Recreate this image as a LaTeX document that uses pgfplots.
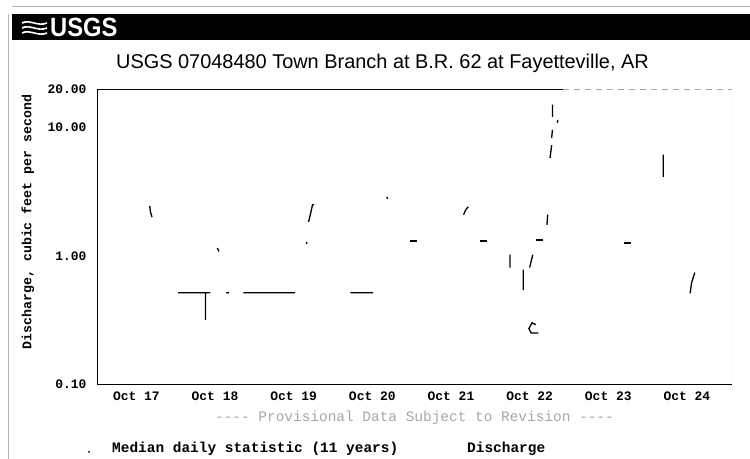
\documentclass[border=0pt]{standalone}
\usepackage{fontspec}
\setmainfont{Liberation Sans}
\newfontfamily\mono{Liberation Mono}
\usepackage{pgfplots}
\pgfplotsset{compat=1.18}
\begin{document}
\begin{tikzpicture}[x=1bp,y=1bp]
\useasboundingbox (0,0) rectangle (750,459);
% header bar
\fill[black] (12,419) rectangle (750,445);
\draw[gray!60, line width=0.6] (12,453) -- (750,453);
\draw[gray!60, line width=0.8] (8,0) -- (8,445);
\foreach \yy in {436,431,426}{
  \draw[white, line width=1.6] (22,\yy) .. controls (30,\yy+4) and (38,\yy-4) .. (47,\yy);
}
\node[anchor=base west, inner sep=0, text=white, font=\bfseries\fontsize{26.5}{26.5}\selectfont, xscale=0.9] at (50,422) {USGS};
% title
\node[anchor=base, inner sep=0, font=\fontsize{20}{20}\selectfont] at (382.5,390) {USGS 07048480 Town Branch at B.R. 62 at Fayetteville, AR};
\begin{axis}[
  at={(97bp,75bp)}, anchor=south west,
  width=635bp, height=295bp, scale only axis,
  ymode=log, ymin=0.1, ymax=20,
  xmin=16.5, xmax=24.573,
  axis x line*=bottom, axis y line*=left,
  axis line style={black, line width=0.9bp},
  xtick={17,18,19,20,21,22,23,24},
  xticklabels={Oct 17,Oct 18,Oct 19,Oct 20,Oct 21,Oct 22,Oct 23,Oct 24},
  ytick={0.1,1,10,20},
  yticklabels={0.10,1.00,10.00,20.00},
  minor ytick={}, yminorticks=false,
  major tick length=0pt,
  ticklabel style={font=\mono\bfseries\fontsize{13}{13}\selectfont},
  xticklabel style={yshift=-4bp},
  yticklabel style={xshift=-7bp},
  xlabel={---- Provisional Data Subject to Revision ----},
  every axis x label/.style={at={(axis description cs:0.5,-0.115)}, anchor=center, font=\mono\fontsize{14.5}{14.5}\selectfont, text=gray!70},
  ylabel={Discharge, cubic feet per second},
  every axis y label/.style={at={(axis description cs:-0.1087,0.549)}, anchor=center, rotate=90, font=\mono\bfseries\fontsize{13.3}{13.3}\selectfont},
  unbounded coords=jump,
]
% top and right border
\draw[black, line width=0.9bp] (axis cs:16.5,20) -- (axis cs:22.42,20);
\draw[gray!70, line width=0.8bp, dash pattern=on 6bp off 5bp] (axis cs:22.42,20) -- (axis cs:24.573,20);
\draw[gray!70, line width=1bp, dash pattern=on 2bp off 2bp] (axis cs:24.573,0.1) -- (axis cs:24.573,20);
% discharge
\addplot[black, line width=1.3bp] coordinates {
(17.17,2.45)(17.18,2.2)(17.2,2.0)
(17.2,nan)
(17.53,0.515)(17.94,0.515)
(17.94,nan)
(17.88,0.515)(17.88,0.317)
(17.88,nan)
(18.03,1.15)(18.05,1.08)
(18.05,nan)
(18.14,0.515)(18.18,0.515)
(18.18,nan)
(18.36,0.515)(19.02,0.515)
(19.02,nan)
(19.16,1.28)(19.17,1.24)
(19.17,nan)
(19.19,1.84)(19.22,2.2)(19.24,2.5)(19.26,2.5)
(19.26,nan)
(19.72,0.515)(20.01,0.515)
(20.01,nan)
(20.18,2.86)(20.2,2.8)
(20.2,nan)
(21.16,2.09)(21.19,2.3)(21.22,2.41)
(21.22,nan)
(21.75,1.02)(21.75,0.81)
(21.75,nan)
(21.92,0.78)(21.92,0.54)
(21.92,nan)
(22.0,0.81)(22.04,1.02)
(22.04,nan)
(22.08,0.29)(22.03,0.30)(21.99,0.27)(22.02,0.25)(22.11,0.25)
(22.11,nan)
(22.22,1.74)(22.23,2.09)
(22.23,nan)
(22.26,5.8)(22.28,7.3)
(22.28,nan)
(22.28,8.3)(22.29,9.6)
(22.29,nan)
(22.29,12.1)(22.29,15.1)
(22.29,nan)
(22.35,10.9)(22.36,11.4)
(22.36,nan)
(23.70,4.13)(23.70,6.14)
(23.70,nan)
(24.04,0.51)(24.06,0.62)(24.1,0.74)
};
% median daily statistic
\addplot[only marks, mark=-, mark size=3.5bp, line width=2bp, black] coordinates {
(20.52,1.31)(21.41,1.31)(22.13,1.33)(23.24,1.26)
};
\end{axis}
% legend
\fill[black] (89,7) circle (1bp);
\node[anchor=west, inner sep=0, font=\mono\bfseries\fontsize{14.5}{14.5}\selectfont] at (112,10) {Median daily statistic (11 years)};
\node[anchor=west, inner sep=0, font=\mono\bfseries\fontsize{14.5}{14.5}\selectfont] at (467,10) {Discharge};
\end{tikzpicture}
\end{document}
